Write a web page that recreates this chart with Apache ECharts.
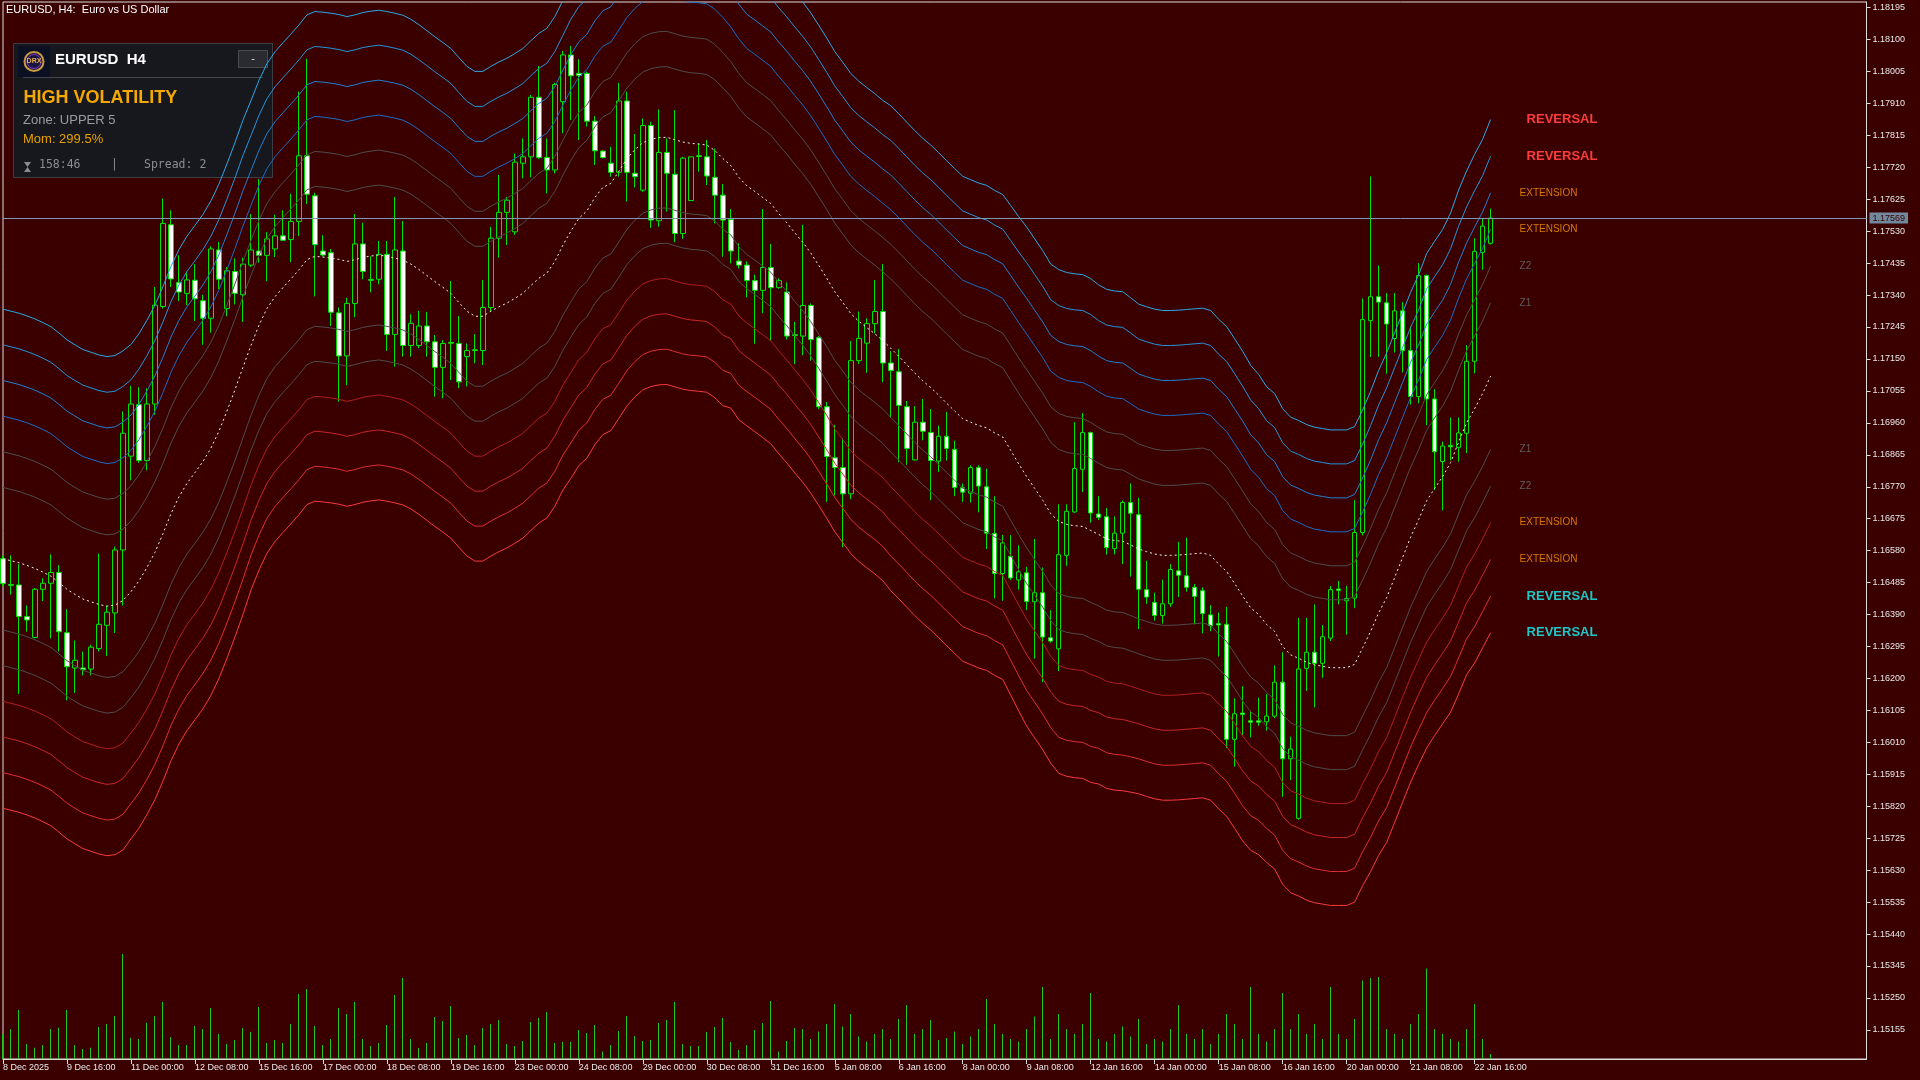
<!DOCTYPE html>
<html><head><meta charset="utf-8">
<script src="https://cdn.jsdelivr.net/npm/echarts/dist/echarts.min.js"></script>
<style>html,body{margin:0;padding:0;background:#3a0000;}#c{width:1920px;height:1080px;}</style>
</head><body><div id="c"></div>
<script>
// ---- DATA (prices in points: 1 point = 0.00001) ----
const tickLabels = ['8 Dec 2025','9 Dec 16:00','11 Dec 00:00','12 Dec 08:00','15 Dec 16:00','17 Dec 00:00','18 Dec 08:00','19 Dec 16:00','23 Dec 00:00','24 Dec 08:00','29 Dec 00:00','30 Dec 08:00','31 Dec 16:00','5 Jan 08:00','6 Jan 16:00','8 Jan 00:00','9 Jan 08:00','12 Jan 16:00','14 Jan 00:00','15 Jan 08:00','16 Jan 16:00','20 Jan 00:00','21 Jan 08:00','22 Jan 16:00'];
const priceTicks = [1.15155,1.15250,1.15345,1.15440,1.15535,1.15630,1.15725,1.15820,1.15915,1.16010,1.16105,1.16200,1.16295,1.16390,1.16485,1.16580,1.16675,1.16770,1.16865,1.16960,1.17055,1.17150,1.17245,1.17340,1.17435,1.17530,1.17625,1.17720,1.17815,1.17910,1.18005,1.18100,1.18195];
const lastPrice = 1.17569;
// [open, close, low, high]
const candles = [
[116556,116482,116475,116566],[116479,116477,116449,116566],[116478,116384,116154,116540],[116384,116374,116339,116417],[116322,116465,116319,116469],
[116465,116483,116430,116498],[116483,116515,116319,116569],[116515,116339,116280,116537],[116336,116235,116135,116406],[116231,116254,116157,116313],
[116231,116226,116209,116280],[116228,116293,116209,116300],[116289,116361,116280,116571],[116358,116397,116267,116417],[116395,116582,116335,116592],
[116582,116929,116417,116994],[116861,117016,116789,117070],[117014,116848,116841,117066],[116848,117016,116819,117063],[117016,117310,116984,117364],
[117306,117553,117300,117627],[117549,117388,117364,117592],[117377,117349,117322,117458],[117345,117385,117310,117410],[117384,117329,117263,117432],
[117323,117271,117192,117341],[117271,117477,117228,117485],[117474,117387,117358,117498],[117300,117412,117277,117423],[117410,117345,117312,117449],
[117341,117432,117260,117451],[117429,117474,117423,117581],[117471,117458,117436,117685],[117458,117507,117381,117527],[117477,117516,117453,117579],
[117516,117503,117501,117592],[117505,117559,117438,117641],[117559,117754,117516,117945],[117754,117640,117611,118043],[117635,117490,117336,117644],
[117471,117459,117455,117518],[117466,117289,117248,117477],[117287,117159,117023,117303],[117159,117315,117072,117332],[117315,117492,117274,117581],
[117492,117410,117387,117555],[117386,117384,117348,117455],[117387,117461,117372,117501],[117461,117223,117174,117501],[117223,117474,117127,117632],
[117471,117190,117157,117560],[117190,117256,117157,117283],[117190,117248,117182,117293],[117248,117201,117157,117290],[117201,117125,117038,117221],
[117125,117196,117033,117206],[117199,117197,117087,117382],[117196,117082,117063,117278],[117157,117175,117068,117196],[117177,117175,117137,117224],
[117175,117303,117132,117385],[117303,117509,117291,117543],[117509,117586,117451,117697],[117586,117622,117489,117632],[117528,117735,117519,117761],
[117732,117751,117687,117806],[117751,117928,117690,117935],[117928,117749,117744,118021],[117749,117712,117642,117806],[117712,117966,117702,117971],
[117915,118054,117821,118066],[118054,117992,117860,118081],[117999,117993,117801,118041],[117999,117857,117841,118004],[117857,117769,117727,117872],
[117768,117749,117746,117770],[117732,117705,117692,117781],[117705,117917,117692,117971],[117917,117705,117618,117945],[117702,117692,117660,117819],
[117652,117844,117647,117865],[117844,117563,117540,117855],[117561,117764,117543,117892],[117764,117702,117588,117806],[117699,117523,117497,117890],
[117523,117747,117507,117751],[117621,117751,117621,117751],[117754,117752,117707,117791],[117751,117694,117667,117801],[117690,117637,117553,117776],
[117637,117563,117454,117670],[117565,117471,117434,117596],[117441,117429,117419,117494],[117429,117383,117333,117440],[117383,117354,117195,117401],
[117354,117422,117286,117596],[117422,117362,117203,117492],[117362,117383,117359,117390],[117349,117218,117208,117378],[117222,117220,117135,117260],
[117218,117309,117161,117549],[117309,117208,117145,117315],[117213,117008,117001,117218],[117008,116860,116725,117022],[116856,116827,116744,116954],
[116827,116749,116590,116914],[116749,117145,116733,117203],[117145,117211,117135,117291],[117197,117255,117109,117271],[117255,117291,117226,117385],
[117291,117138,117081,117432],[117138,117116,116976,117173],[117112,117012,116843,117180],[117008,116884,116835,117025],[116850,116962,116848,117010],
[116962,116935,116908,117031],[116931,116848,116730,117001],[116846,116920,116814,116952],[116920,116884,116848,116992],[116881,116768,116742,116907],
[116767,116754,116725,116780],[116751,116827,116723,116834],[116827,116772,116694,116834],[116770,116632,116585,116824],[116631,116512,116438,116742],
[116512,116603,116431,116627],[116563,116499,116493,116626],[116493,116517,116464,116596],[116514,116429,116403,116532],[116428,116455,116259,116615],
[116455,116323,116189,116530],[116321,116311,116306,116403],[116288,116568,116222,116718],[116566,116697,116535,116718],[116695,116824,116692,116962],
[116822,116931,116754,116989],[116931,116692,116663,116934],[116689,116679,116671,116742],[116681,116589,116568,116707],[116586,116632,116569,116682],
[116632,116723,116540,116729],[116723,116691,116503,116780],[116687,116465,116347,116737],[116464,116442,116422,116550],[116426,116387,116372,116455],
[116387,116422,116363,116494],[116422,116524,116413,116540],[116520,116507,116442,116606],[116505,116471,116458,116619],[116471,116444,116361,116481],
[116461,116393,116334,116471],[116389,116357,116340,116418],[116363,116359,116265,116396],[116361,116019,115993,116413],[116019,116095,115938,116141],
[116097,116093,116032,116177],[116074,116070,116025,116104],[116074,116070,116059,116143],[116071,116088,116045,116154],[116088,116189,116082,116239],
[116189,115961,115848,116278],[115961,115990,115898,116027],[115784,116228,115780,116380],[116230,116278,116163,116380],[116278,116245,116114,116420],
[116245,116324,116202,116359],[116320,116464,116311,116475],[116466,116462,116420,116490],[116431,116438,116330,116475],[116439,116634,116409,116730],
[116634,117267,116625,117330],[117264,117335,117156,117693],[117335,117319,117156,117428],[117317,117254,117106,117346],[117211,117293,117169,117346],
[117293,117175,117110,117319],[117175,117038,117014,117247],[117038,117398,117018,117435],[117398,117031,116953,117401],[117031,116874,116760,117060],
[116845,116891,116700,116904],[116893,116889,116848,116976],[116887,116930,116844,116976],[116929,117143,116870,117191],[117143,117470,117107,117509],
[117467,117545,117415,117568],[117494,117569,117490,117597]
];
// dashed centre line of the bands
const centerLine = [
116556,116550,116544,116536,116527,116516,116504,116485,116465,116450,116436,116428,116420,116415,116418,116432,116458,116490,116530,116575,
116630,116690,116740,116780,116812,116845,116885,116935,116995,117058,117125,117190,117250,117300,117335,117362,117388,117415,117445,117455,
117453,117450,117446,117440,117445,117452,117456,117459,117455,117450,117444,117432,117416,117398,117380,117363,117345,117318,117292,117277,
117277,117292,117305,117316,117330,117345,117368,117390,117405,117440,117488,117530,117568,117590,117630,117660,117672,117708,117745,117772,
117793,117803,117808,117809,117802,117795,117791,117789,117786,117770,117746,117725,117690,117665,117648,117630,117612,117582,117555,117525,
117497,117465,117428,117390,117350,117318,117285,117262,117243,117225,117205,117182,117158,117133,117108,117085,117065,117042,117018,116995,
116972,116962,116952,116945,116930,116918,116878,116838,116800,116765,116730,116690,116667,116658,116654,116652,116640,116628,116615,116610,
116608,116597,116585,116577,116570,116566,116566,116567,116569,116571,116573,116566,116540,116518,116482,116445,116410,116390,116360,116340,
116295,116270,116260,116248,116240,116236,116232,116232,116232,116242,116291,116340,116395,116440,116500,116560,116620,116672,116728,116765,
116800,116842,116903,116960,117002,117047,117099
];
// distance between successive band lines
const bandStep = [
106,106,106,106,106,106,106,106,106,106,106,106,106,106,106,106,105,105,105,105,
105,105,105,105,105,105,105,105,105,105,105,104,104,104,104,104,104,104,104,104,
104,104,104,104,104,104,104,104,104,104,104,104,104,104,104,104,104,104,104,104,
104,104,104,104,104,104,104,104,104,104,104,105,105,105,105,105,105,105,105,105,
105,105,105,105,105,105,105,105,105,105,105,103,103,102,102,102,102,102,102,102,
102,102,102,102,102,102,102,102,102,102,102,103,103,103,103,103,103,103,103,103,
103,103,103,103,103,103,104,105,106,106,106,106,107,107,107,107,107,106,106,106,
106,105,104,104,104,104,104,104,104,104,104,104,104,104,104,104,103,102,101,101,
101,101,101,101,101,101,101,101,101,101,101,102,103,104,104,104,104,104,105,105,
105,106,107,107,108,108,109
];
const volumes = [
5000,6000,9800,3000,2270,2800,6000,6270,9800,2800,2000,2270,6400,7000,8600,21000,4270,4000,7270,8600,
11400,4400,2800,2800,6600,6000,10200,5000,3000,3800,6200,5400,10400,3200,3800,3200,7000,13000,14000,6600,
2800,4000,10200,9000,11400,4000,2600,3200,6800,12800,16200,4000,2200,3200,8400,7600,10600,4200,4800,2800,
6200,7000,7800,3000,2600,3600,7400,8200,9400,3200,3400,3400,5800,5200,6800,1500,2800,5600,8600,4600,
3600,3800,7200,7800,11400,3000,2600,2600,5400,6400,8200,3400,1800,2800,5800,7200,11600,1500,3600,6200,
6000,4000,5500,7000,11000,6500,9000,4500,3500,5000,6000,4000,8000,10800,5000,6000,7800,3800,4200,5500,
3000,4500,6000,12000,7000,5000,4000,3500,6000,8500,14400,4000,9000,6000,5000,7000,13200,4000,3500,5000,
6500,4500,8000,3000,4000,3500,6000,10800,5000,4000,6000,3000,5000,9000,7000,4000,14400,5000,3500,6000,
13200,6000,9000,5000,7000,4000,14400,5000,4000,8000,15700,16200,16400,6000,5000,4000,7000,9000,18100,6000,
5000,4000,3500,6000,11000,4000,1000
];
const bandDefs = [
  {k: 7, text: 'REVERSAL',  line: '#2aa8e6', label: '#ff3c3c', bold: true},
  {k: 6, text: 'REVERSAL',  line: '#2594dc', label: '#ff3c3c', bold: true},
  {k: 5, text: 'EXTENSION', line: '#1f80d2', label: '#d97800'},
  {k: 4, text: 'EXTENSION', line: '#1a6cc6', label: '#d97800'},
  {k: 3, text: 'Z2',        line: '#4d4d4d', label: '#5e5e5e'},
  {k: 2, text: 'Z1',        line: '#4d4d4d', label: '#5e5e5e'},
  {k: -2, text: 'Z1',       line: '#4d4d4d', label: '#5e5e5e'},
  {k: -3, text: 'Z2',       line: '#4d4d4d', label: '#5e5e5e'},
  {k: -4, text: 'EXTENSION',line: '#b01e1e', label: '#d97800'},
  {k: -5, text: 'EXTENSION',line: '#c82626', label: '#d97800'},
  {k: -6, text: 'REVERSAL', line: '#e02e2e', label: '#1ec8c8', bold: true},
  {k: -7, text: 'REVERSAL', line: '#f83a3a', label: '#1ec8c8', bold: true}
];

// ---- CHART ----
const N = 234;
const cats = Array.from({length: N}, (_, i) => String(i));
const P = v => v / 1e5;
const chart = echarts.init(document.getElementById('c'), null, {renderer: 'canvas'});
const FONT = 'Liberation Sans';
const showTick = (i) => i % 8 === 0 && i <= 184;

const series = [];
series.push({
  type: 'candlestick', xAxisIndex: 0, yAxisIndex: 0, barWidth: 5,
  data: candles.map(c => c.map(P)),
  itemStyle: {color: '#3a0000', color0: '#ffffff', borderColor: '#00e600', borderColor0: '#00e600', borderWidth: 1}
});
bandDefs.forEach(b => {
  series.push({
    type: 'line', xAxisIndex: 0, yAxisIndex: 0, symbol: 'none', silent: true,
    data: centerLine.map((c, i) => P(c + b.k * bandStep[i])),
    lineStyle: {color: b.line, width: 1},
    endLabel: {show: true, formatter: b.text, color: b.label, distance: 0,
      offset: [b.bold ? 36 : 29, 0], fontFamily: FONT,
      fontSize: b.bold ? 13 : 10, fontWeight: b.bold ? 'bold' : 'normal'}
  });
});
series.push({
  type: 'line', xAxisIndex: 0, yAxisIndex: 0, symbol: 'none', silent: true,
  data: centerLine.map(P),
  lineStyle: {color: '#f2f2f2', width: 1, type: [2, 3]},
  markLine: {
    symbol: 'none', silent: true, animation: false, precision: 5,
    lineStyle: {color: '#8096ab', width: 1, type: 'solid'},
    label: {position: 'end', formatter: lastPrice.toFixed(5), backgroundColor: '#72889c', color: '#3a0000',
      fontSize: 9, fontFamily: FONT, padding: [1, 3, 1, 3], distance: 3},
    data: [{yAxis: lastPrice}]
  }
});
series.push({
  type: 'bar', xAxisIndex: 1, yAxisIndex: 1, barWidth: 1, silent: true,
  data: volumes, itemStyle: {color: '#1ec81e'}
});

const option = {
  backgroundColor: '#3a0000',
  animation: false,
  grid: [
    {left: 2.5, top: 2, width: 1864, height: 1057, show: true, borderColor: '#dcdcdc', borderWidth: 1, backgroundColor: 'transparent'},
    {left: 2.5, top: 949, width: 1864, height: 110}
  ],
  xAxis: [
    {type: 'category', gridIndex: 0, data: cats, boundaryGap: false,
      axisLine: {show: true, lineStyle: {color: '#dcdcdc'}},
      axisTick: {show: true, interval: showTick, length: 5, lineStyle: {color: '#dcdcdc'}},
      axisLabel: {show: true, interval: showTick, formatter: (v, i) => tickLabels[Math.round(Number(v) / 8)] || '',
        align: 'left', color: '#e8e8e8', fontSize: 9, fontFamily: FONT, margin: 4},
      splitLine: {show: false}},
    {type: 'category', gridIndex: 1, data: cats, boundaryGap: false, show: false}
  ],
  yAxis: [
    {type: 'value', gridIndex: 0, position: 'right', min: 1.1506848, max: 1.1821135,
      axisLine: {show: true, lineStyle: {color: '#dcdcdc'}},
      axisTick: {show: true, customValues: priceTicks, length: 4, lineStyle: {color: '#dcdcdc'}},
      axisLabel: {show: true, customValues: priceTicks, formatter: v => v.toFixed(5), color: '#e8e8e8',
        fontSize: 9, fontFamily: FONT, margin: 6},
      splitLine: {show: false}},
    {type: 'value', gridIndex: 1, min: 0, max: 22000, show: false, splitLine: {show: false}}
  ],
  series: series,
  graphic: [
    {type: 'text', left: 6, top: 4, style: {text: 'EURUSD, H4:  Euro vs US Dollar', fill: '#ffffff', font: '11px ' + FONT}},
    {type: 'rect', shape: {x: 13.5, y: 43.5, width: 259, height: 134}, style: {fill: '#17181d', stroke: '#3d3e45', lineWidth: 1}},
    {type: 'rect', shape: {x: 18, y: 46, width: 32, height: 31}, style: {fill: '#0b1022'}},
    {type: 'circle', shape: {cx: 34, cy: 61.5, r: 9.5}, style: {fill: '#1a1440', stroke: '#c89a3c', lineWidth: 2}},
    {type: 'circle', shape: {cx: 34, cy: 61.5, r: 7}, style: {fill: 'none', stroke: '#7a3cc8', lineWidth: 1}},
    {type: 'text', x: 34, y: 61.5, style: {text: 'DRX', fill: '#e8b040', font: 'bold 7px ' + FONT, align: 'center', verticalAlign: 'middle'}},
    {type: 'text', x: 55, y: 60, style: {text: 'EURUSD  H4', fill: '#ffffff', font: 'bold 15px ' + FONT, verticalAlign: 'middle'}},
    {type: 'rect', shape: {x: 238.5, y: 50.5, width: 29, height: 17}, style: {fill: '#2a2b31', stroke: '#4a4b52', lineWidth: 1}},
    {type: 'text', x: 253, y: 58.5, style: {text: '-', fill: '#e0e0e0', font: '11px ' + FONT, align: 'center', verticalAlign: 'middle'}},
    {type: 'line', shape: {x1: 23, y1: 77.5, x2: 263, y2: 77.5}, style: {stroke: '#45464d', lineWidth: 1}},
    {type: 'text', x: 23.5, y: 98.5, style: {text: 'HIGH VOLATILITY', fill: '#f5a800', font: 'bold 18px ' + FONT, verticalAlign: 'middle'}},
    {type: 'text', x: 23, y: 120.5, style: {text: 'Zone: UPPER 5', fill: '#9b9ba3', font: '13px ' + FONT, verticalAlign: 'middle'}},
    {type: 'text', x: 23, y: 139.5, style: {text: 'Mom: 299.5%', fill: '#e6a000', font: '13px ' + FONT, verticalAlign: 'middle'}},
    {type: 'polygon', shape: {points: [[24, 162], [31, 162], [27.5, 167], [31, 172], [24, 172], [27.5, 167]]}, style: {fill: '#8a8a90'}},
    {type: 'text', x: 39, y: 165.5, style: {text: '158:46', fill: '#8c8c92', font: '11.5px DejaVu Sans Mono', verticalAlign: 'middle'}},
    {type: 'text', x: 111, y: 165.5, style: {text: '|', fill: '#8c8c92', font: '11.5px DejaVu Sans Mono', verticalAlign: 'middle'}},
    {type: 'text', x: 144, y: 165.5, style: {text: 'Spread: 2', fill: '#8c8c92', font: '11.5px DejaVu Sans Mono', verticalAlign: 'middle'}}
  ]
};
chart.setOption(option);
</script></body></html>
